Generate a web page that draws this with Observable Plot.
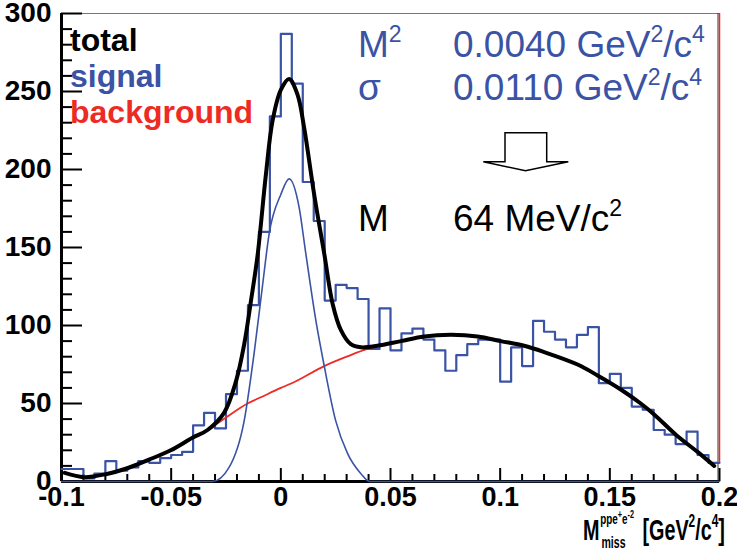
<!DOCTYPE html>
<html><head><meta charset="utf-8">
<script src="https://cdn.jsdelivr.net/npm/d3@7"></script>
<script src="https://cdn.jsdelivr.net/npm/@observablehq/plot@0.6"></script>
<style>body{margin:0;background:#fff} #chart{width:737px;height:550px}</style>
</head><body><div id="chart"></div>
<script>
// Histogram: left bin edges (width 0.005) and counts
const binEdges = [-0.1,-0.095,-0.09,-0.085,-0.08,-0.075,-0.07,-0.065,-0.06,-0.055,
  -0.05,-0.045,-0.04,-0.035,-0.03,-0.025,-0.02,-0.015,-0.01,-0.005,
  0,0.005,0.01,0.015,0.02,0.025,0.03,0.035,0.04,0.045,
  0.05,0.055,0.06,0.065,0.07,0.075,0.08,0.085,0.09,0.095,
  0.1,0.105,0.11,0.115,0.12,0.125,0.13,0.135,0.14,0.145,
  0.15,0.155,0.16,0.165,0.17,0.175,0.18,0.185,0.19,0.195];
const histEnd = 0.2;
const counts = [8,8,2,5,13,7,9,13,12,15,
  17,19,36,44,34,56,71,113,160,234,
  287,255,192,167,116,126,124,117,85,111,
  84,95,98,91,84,71,81,88,91,91,
  64,86,74,103,96,91,86,94,99,63,
  69,60,48,46,33,30,24,32,17,12];

// Signal fit (blue curve)
const signalX = [-0.1,-0.045,-0.0311,-0.0236,-0.0167,-0.0122,-0.0084,-0.0053,0.0,0.0038,0.0083,0.0114,0.016,0.0198,0.025,0.0304,0.0365,0.0405,0.05,0.2];
const signalY = [0,0,0,9,39,82,125,159,184,194,176,146,103,74,39,18,5,0,0,0];

// Total fit (black curve)
const totalX = [-0.0985,-0.0897,-0.0798,-0.07,-0.0601,-0.0502,-0.0403,-0.0334,-0.0259,-0.0205,-0.0167,-0.0137,-0.0106,-0.0068,-0.0038,0.0,0.0038,0.0076,0.0106,0.0152,0.0198,0.0236,0.0274,0.0319,0.0365,0.044,0.0547,0.0654,0.0775,0.0897,0.1003,0.1109,0.12,0.1353,0.1444,0.155,0.1641,0.1702,0.1809,0.19,0.1976];
const totalY = [5.5,2.8,4.7,8.5,14,20,28,33,44,64,88,115,145,197,231,251,258,248,227,184,146,114,97,88,86,87,90,93,94,93,90,87,83,75,68,59,50,43,29,19,10];

// Background fit (red curve), visible part
const bgX = [-0.04,-0.0334,-0.025,-0.0152,-0.0091,0.0,0.005,0.0198,0.03,0.0395,0.045];
const bgY = [28,33,41,50,54,60,63,74,80,85,87];

const xTicks = [-0.1,-0.05,0,0.05,0.1,0.15,0.2];
const xTickLabels = ["-0.1","-0.05","0","0.05","0.1","0.15","0.2"];
const xMinorTicks = [-0.09,-0.08,-0.07,-0.06,-0.04,-0.03,-0.02,-0.01,0.01,0.02,0.03,0.04,0.06,0.07,0.08,0.09,0.11,0.12,0.13,0.14,0.16,0.17,0.18,0.19];
const yTicks = [0,50,100,150,200,250,300];
const yTickLabels = ["0","50","100","150","200","250","300"];
const yMinorTicks = [10,20,30,40,60,70,80,90,110,120,130,140,160,170,180,190,210,220,230,240,260,270,280,290];

const legendLabels = ["total","signal","background"];
const M2Text = "0.0040";
const sigmaText = "0.0110";
const massText = "64";

const BLUE = "#3a53a4", RED = "#ee2a24";
const W = 737, H = 550, mL = 61, mR = 18, mT = 13, mB = 69;
const fw = W - mL - mR, fh = H - mT - mB;

const hist = binEdges.map((x, i) => ({x, y: counts[i]})).concat([{x: histEnd, y: counts[counts.length - 1]}]);
const sig = signalX.map((x, i) => ({x, y: signalY[i]}));
const tot = totalX.map((x, i) => ({x, y: totalY[i]}));
const bg = bgX.map((x, i) => ({x, y: bgY[i]}));

const plot = Plot.plot({
  width: W, height: H,
  marginLeft: mL, marginRight: mR, marginTop: mT, marginBottom: mB,
  x: {domain: [-0.1, 0.2], axis: null},
  y: {domain: [0, 300], axis: null},
  style: {background: "white", fontFamily: "'Liberation Sans', Arial, sans-serif", overflow: "visible"},
  marks: [
    Plot.ruleY([300], {stroke: "#777", strokeWidth: 1}),
    Plot.ruleX([0.2], {stroke: "#333", strokeWidth: 1, dx: -1.5}),
    Plot.tickY(yTicks, {y: d => d, stroke: "black", strokeWidth: 2, insetRight: fw - 21}),
    Plot.tickY(yMinorTicks, {y: d => d, stroke: "black", strokeWidth: 2, insetRight: fw - 11}),
    Plot.tickX(xTicks, {x: d => d, stroke: "black", strokeWidth: 2, insetTop: fh - 13}),
    Plot.tickX(xMinorTicks, {x: d => d, stroke: "black", strokeWidth: 2, insetTop: fh - 7}),
    Plot.ruleX([-0.1], {stroke: "black", strokeWidth: 3}),
    Plot.ruleY([0], {stroke: "black", strokeWidth: 3}),
    Plot.line(hist, {x: "x", y: "y", curve: "step-after", stroke: BLUE, strokeWidth: 2.2}),
    Plot.line(bg, {x: "x", y: "y", curve: "monotone-x", stroke: RED, strokeWidth: 1.8}),
    Plot.line(sig, {x: "x", y: "y", curve: "monotone-x", stroke: BLUE, strokeWidth: 1.6}),
    Plot.line(tot, {x: "x", y: "y", curve: "catmull-rom", stroke: "black", strokeWidth: 4}),
    Plot.ruleX([0.2], {y1: counts[counts.length - 1], y2: 300, stroke: RED, strokeWidth: 1.5}),
    Plot.text(yTicks, {x: -0.1, y: d => d, text: (d, i) => yTickLabels[i], textAnchor: "end", dx: -10, fontSize: 28, fontWeight: "bold", fill: "black", ariaLabel: "ytl"}),
    Plot.text(xTicks, {x: d => d, y: 0, text: (d, i) => xTickLabels[i], lineAnchor: "top", dy: 5, fontSize: 27, fontWeight: "bold", fill: "black", ariaLabel: "xtl"})
  ]
});
document.getElementById("chart").appendChild(plot);

const svg = d3.select(plot);
const FONT = "'Liberation Sans', Arial, sans-serif";
function rich(parent, x, y, parts, size, color, weight) {
  const t = parent.append("text").attr("x", x).attr("y", y).attr("text-anchor", "start")
    .attr("font-family", FONT).attr("font-size", size).attr("fill", color).attr("font-weight", weight || "normal");
  let shift = 0;
  for (const p of parts) {
    const off = p.dy || 0;
    const ts = t.append("tspan").text(p.t).attr("dy", off - shift);
    if (p.size) ts.attr("font-size", p.size);
    shift = off;
  }
  return t;
}
// legend
rich(svg, 70, 51, [{t: legendLabels[0]}], 32, "black", "bold");
rich(svg, 70, 87, [{t: legendLabels[1]}], 32, BLUE, "bold");
rich(svg, 70, 123, [{t: legendLabels[2]}], 32, RED, "bold");
// fit results
rich(svg, 358, 57, [{t: "M"}, {t: "2", size: 23, dy: -15}], 37, BLUE);
rich(svg, 358, 100, [{t: "σ"}], 37, BLUE);
rich(svg, 453, 57, [{t: M2Text + " GeV"}, {t: "2", size: 23, dy: -15}, {t: "/c"}, {t: "4", size: 23, dy: -15}], 37, BLUE);
rich(svg, 453, 100, [{t: sigmaText + " GeV"}, {t: "2", size: 23, dy: -15}, {t: "/c"}, {t: "4", size: 23, dy: -15}], 37, BLUE);
rich(svg, 358, 231, [{t: "M"}], 37, "black");
rich(svg, 453, 231, [{t: massText + " MeV/c"}, {t: "2", size: 23, dy: -15}], 37, "black");
// arrow
svg.append("path")
  .attr("d", "M505,132.7 L546.7,132.7 L546.7,161.7 L568.3,161.7 L525.5,170.7 L483.3,161.7 L505,161.7 Z")
  .attr("fill", "white").attr("stroke", "black").attr("stroke-width", 1.5).attr("stroke-linejoin", "miter");
// x-axis title (condensed)
const xt = svg.append("g").attr("transform", "translate(583,540) scale(0.66,1)");
rich(xt, 0, 0, [{t: "M"}], 30, "black", "bold");
rich(xt, 26, -16, [{t: "ppe"}, {t: "+", size: 11, dy: -6}, {t: "e"}, {t: "-2", size: 11, dy: -6}], 15, "black", "bold");
rich(xt, 28, 8, [{t: "miss"}], 16, "black", "bold");
rich(xt, 90, 0, [{t: "[GeV"}, {t: "2", size: 18, dy: -13}, {t: "/c"}, {t: "4", size: 18, dy: -13}, {t: "]"}], 30, "black", "bold");
</script></body></html>
